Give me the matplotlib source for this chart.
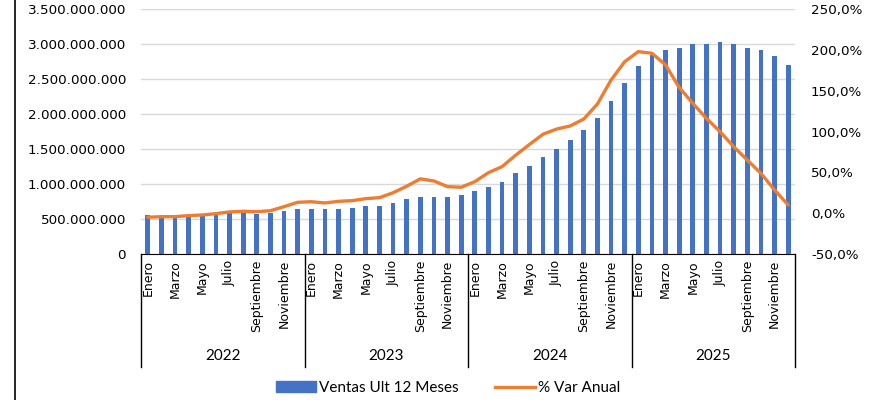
import numpy as np
import matplotlib.pyplot as plt
from matplotlib.lines import Line2D
from matplotlib.patches import Patch
from matplotlib.ticker import FuncFormatter, MultipleLocator

years = ["2022", "2023", "2024", "2025"]
month_labels = ["Enero", "", "Marzo", "", "Mayo", "", "Julio", "", "Septiembre", "", "Noviembre", ""]

# ventas ultimos 12 meses (millones)
ventas = [557, 540, 560, 538, 545, 557, 581, 590, 571, 590, 619, 638,
          638, 638, 648, 662, 681, 690, 733, 781, 819, 819, 819, 848,
          900, 957, 1029, 1152, 1262, 1386, 1495, 1624, 1767, 1943, 2183, 2438,
          2686, 2843, 2914, 2938, 2995, 3000, 3024, 3005, 2943, 2914, 2824, 2705]
# % variacion anual
var_anual = [-5.0, -4.3, -4.3, -3.0, -2.2, -0.6, 1.5, 2.3, 1.8, 3.0, 8.0, 13.3,
             14.0, 12.5, 14.5, 15.3, 17.8, 19.0, 25.0, 33.0, 42.0, 39.4, 32.5, 31.7,
             38.6, 49.6, 57.0, 71.0, 84.0, 96.6, 103.0, 106.8, 115.3, 133.7, 163.0, 185.5,
             197.8, 195.8, 181.5, 154.0, 134.5, 116.0, 99.8, 81.4, 65.0, 48.8, 28.4, 10.0]

blue = "#4472C4"
orange = "#ED7D31"

fig = plt.figure(figsize=(8.71, 4.0), dpi=100)
ax = fig.add_axes([141 / 871, 146 / 400, 654 / 871, 245 / 400])
ax2 = ax.twinx()

x = np.arange(len(ventas))
ax.bar(x, np.array(ventas) * 1e6, width=0.34, color=blue, zorder=2)
ax2.plot(x, var_anual, color=orange, lw=2.4, solid_capstyle="round", zorder=3)

ax.set_xlim(-0.5, len(ventas) - 0.5)
ax.set_ylim(0, 3.5e9)
ax.yaxis.set_major_locator(MultipleLocator(5e8))
ax.yaxis.set_major_formatter(FuncFormatter(lambda v, p: f"{int(v):,}".replace(",", ".")))
ax2.set_ylim(-50, 250)
ax2.yaxis.set_major_locator(MultipleLocator(50))
ax2.yaxis.set_major_formatter(FuncFormatter(lambda v, p: f"{v:.1f}%".replace(".", ",")))

ax.grid(axis="y", color="#d9d9d9", lw=1)
ax.set_axisbelow(True)
for a in (ax, ax2):
    for s in ("top", "left", "right"):
        a.spines[s].set_visible(False)
ax.tick_params(axis="y", length=0, labelsize=9.7, pad=10.8)
ax2.tick_params(axis="y", length=0, labelsize=9.7, pad=11.5)
ax2.spines["bottom"].set_visible(False)
ax.spines["bottom"].set_color("black")
ax.tick_params(axis="x", length=0, labelbottom=False)

trans = ax.get_xaxis_transform()
for i in range(len(ventas)):
    lab = month_labels[i % 12]
    if lab:
        ax.text(i, -0.025, lab, rotation=90, ha="center", va="top", fontsize=9,
                transform=trans)
sep_bottom = -(367 - 254) / 245
for k in range(len(years) + 1):
    ax.add_line(Line2D([k * 12 - 0.5] * 2, [0, sep_bottom], transform=trans,
                       color="black", lw=1, clip_on=False))
for k, yr in enumerate(years):
    ax.text(k * 12 + 5.5, -(356 - 254) / 245, yr, ha="center", va="center",
            fontsize=11, family="Lato", transform=trans)

handles = [Patch(color=blue), Line2D([], [], color=orange, lw=2.4)]
fig.legend(handles, ["Ventas Ult 12 Meses", "% Var Anual"], loc="center",
           bbox_to_anchor=(448 / 871, 1 - 388 / 400), ncol=2, frameon=False,
           prop={"family": "Lato", "size": 11}, handlelength=2.6, columnspacing=2.4,
           handletextpad=0.2)

fig.add_artist(Line2D([14.5 / 871] * 2, [0, 1], color="black", lw=1.2))

fig.savefig("out.png", dpi=100)
